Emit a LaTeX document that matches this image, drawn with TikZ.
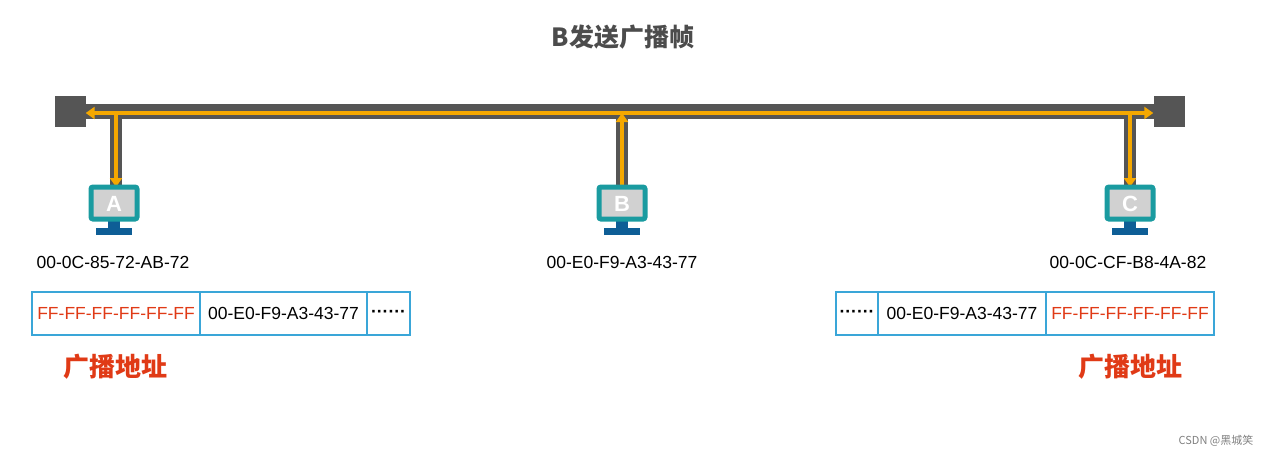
\documentclass[tikz,border=0pt]{standalone}
\usepackage{fontspec}
\setmainfont{Liberation Sans}
\newfontfamily\cjk{Noto Sans CJK SC}
\usetikzlibrary{arrows.meta}
\definecolor{busgray}{HTML}{555555}
\definecolor{org}{HTML}{F5A800}
\definecolor{teal}{HTML}{1A9BA0}
\definecolor{standblue}{HTML}{0E5E96}
\definecolor{cellblue}{HTML}{3AA6D8}
\definecolor{redt}{HTML}{E03A16}
\tikzset{
 endbox/.style={fill=busgray,minimum width=31pt,minimum height=31pt,inner sep=0},
 mac/.style={font=\fontsize{17.5}{20}\selectfont},
 cell/.style={draw=cellblue,line width=1.2pt,minimum height=43pt,inner sep=0,font=\fontsize{17.5}{20}\selectfont},
 red/.style={text=redt},
 sig/.style={draw=org,line width=4.5pt,-{Triangle[length=9pt,width=12pt]}},
}
\newcommand\monitor[3]{%
 \fill[standblue] (#1-6,#2+36) rectangle (#1+6,#2+43);
 \fill[standblue] (#1-18,#2+43) rectangle (#1+18,#2+50);
 \draw[teal,line width=5pt,fill=black!18,rounded corners=2pt] (#1-23,#2+2) rectangle (#1+23,#2+34);
 \node[text=white,font=\bfseries\fontsize{22}{22}\selectfont] at (#1,#2+19) {#3};}
\begin{document}
\begin{tikzpicture}[x=1pt,y=-1pt]
\useasboundingbox (0,0) rectangle (1269,459);
\node[font=\cjk\bfseries\fontsize{25}{28}\selectfont,text=black!70] (title) at (623,37) {B发送广播帧};
\fill[busgray] (70,104) rectangle (1170,119);
\node[endbox] (L) at (70,111) {};
\node[endbox] (R) at (1169,111) {};
\foreach \x in {116,622,1130} \fill[busgray] (\x-6,112) rectangle (\x+6,185);
\coordinate (jA) at (116,113);
\coordinate (jB) at (622,113);
\coordinate (jC) at (1130,113);
\coordinate (mA) at (116,187);
\coordinate (mB) at (622,187);
\coordinate (mC) at (1130,187);
\draw[sig] (jB) -- (L.east|-jB);
\draw[sig] (jB) -- (R.west|-jB);
\draw[sig] (jA) -- (mA);
\draw[sig] (jC) -- (mC);
\draw[sig] (mB) -- (jB);
\monitor{114}{185}{A}
\monitor{622}{185}{B}
\monitor{1130}{185}{C}
\node[mac] (a) at (113,262) {00-0C-85-72-AB-72};
\node[mac] (b) at (622,262) {00-E0-F9-A3-43-77};
\node[mac] (c) at (1128,262) {00-0C-CF-B8-4A-82};
\node[cell,red,minimum width=168pt] (f1) at (116,313.5) {FF-FF-FF-FF-FF-FF};
\node[cell,minimum width=167pt] (f2) at (283.5,313.5) {00-E0-F9-A3-43-77};
\node[cell,minimum width=43pt] (f3) at (388.5,313.5) {\raisebox{-3pt}{\textbf{······}}};
\node[cell,minimum width=42pt] (g1) at (857,313.5) {\raisebox{-3pt}{\textbf{······}}};
\node[cell,minimum width=168pt] (g2) at (962,313.5) {00-E0-F9-A3-43-77};
\node[cell,red,minimum width=168pt] (g3) at (1130,313.5) {FF-FF-FF-FF-FF-FF};
\node[font=\cjk\bfseries\fontsize{26}{28}\selectfont,text=redt] (la) at (115,367) {广播地址};
\node[font=\cjk\bfseries\fontsize{26}{28}\selectfont,text=redt] (lc) at (1130,367) {广播地址};
\node[font=\cjk\fontsize{11}{12}\selectfont,text=black!50] (wm) at (1216,441) {CSDN @黑城笑};
\end{tikzpicture}
\end{document}
